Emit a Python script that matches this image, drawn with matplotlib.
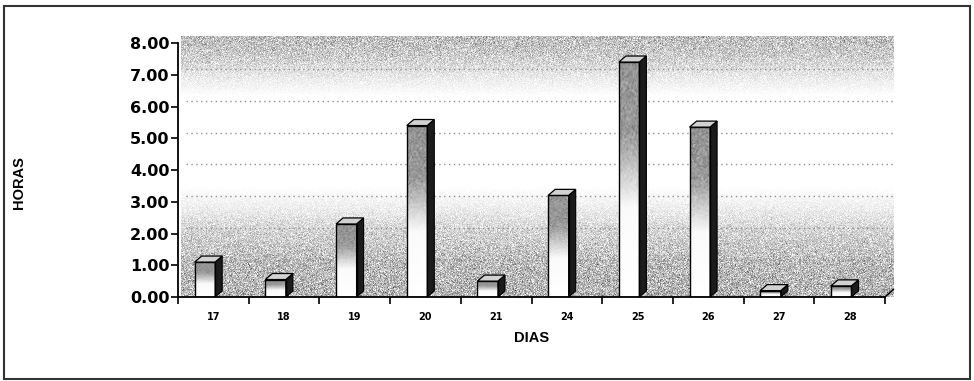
import numpy as np
import matplotlib.pyplot as plt
from matplotlib.patches import Polygon, Rectangle

# horas registradas por dia
dias = ['17', '18', '19', '20', '21', '24', '25', '26', '27', '28']
horas = [1.10, 0.55, 2.30, 5.40, 0.50, 3.20, 7.40, 5.35, 0.20, 0.35]
y_ticks = [0, 1, 2, 3, 4, 5, 6, 7, 8]

fig = plt.figure(figsize=(9.74, 3.81), dpi=100)
fig.patch.set_facecolor('white')
ax = fig.add_axes([178 / 974, 84 / 381, 707 / 974, 254 / 381])

x = np.arange(len(dias))
ax.set_xlim(-0.5, len(dias) - 0.5)
ax.set_ylim(0, 8)

# pseudo-3d depth offsets (data units)
bdx, bdy = 0.10, 0.19
wdx, wdy = 0.12, 0.22

rng = np.random.default_rng(7)

# back wall: grainy gradient, grey at top and bottom, white in the middle
wall_top = 8 + wdy
nv, nh = 260, 720
v = np.linspace(0, wall_top, nv)
g = np.interp(v, [0, 1.0, 2.0, 2.8, 3.5, 6.3, 6.9, 7.6, wall_top],
              [0.70, 0.73, 0.82, 0.93, 1.0, 1.0, 0.92, 0.80, 0.74])
shade = np.repeat(g[:, None], nh, axis=1)
grain = rng.normal(0, 1, shade.shape) * (1 - shade)
shade = np.clip(shade - grain * 0.45, 0, 1)
ax.imshow(shade, cmap='gray', vmin=0, vmax=1, origin='lower', aspect='auto',
          extent=(-0.5 + 0.04, len(dias) - 0.5 + wdx, 0, wall_top),
          interpolation='nearest', zorder=0, clip_on=False)

# dotted gridlines on the wall
for t in y_ticks[1:-1]:
    ax.plot([-0.5 + wdx, len(dias) - 0.5 + wdx], [t + wdy * 0.8] * 2,
            ls=(0, (1, 2.5)), color='#909090', lw=1.0, zorder=1, clip_on=False)

# bars: front face with vertical gradient, dark side, light cap
w = 0.29
off = -0.12
bars = ax.bar(x + off, horas, width=w, facecolor='none', edgecolor='black',
              lw=1.0, zorder=4)
for xi, h, bar in zip(x, horas, bars):
    x0 = xi + off - w / 2
    x1 = xi + off + w / 2
    fv = np.linspace(0, 1, 120)
    fg = np.interp(fv, [0, 0.38, 0.70, 1.0], [1.0, 0.98, 0.60, 0.58])
    face = np.repeat(fg[:, None], 20, axis=1)
    face = np.clip(face - rng.normal(0, 1, face.shape) * 0.15 * (1 - face), 0, 1)
    im = ax.imshow(face, cmap='gray', vmin=0, vmax=1, origin='lower',
                   aspect='auto', extent=(x0, x1, 0, h),
                   interpolation='bilinear', zorder=3)
    im.set_clip_path(bar)
    side = Polygon([(x1, 0), (x1 + bdx, bdy), (x1 + bdx, h + bdy), (x1, h)],
                   closed=True, facecolor='#1c1c1c', edgecolor='black',
                   lw=0.8, zorder=3.5)
    ax.add_patch(side)
    cap = Polygon([(x0, h), (x0 + bdx, h + bdy), (x1 + bdx, h + bdy), (x1, h)],
                  closed=True, facecolor='#d2d2d2', edgecolor='black',
                  lw=0.9, zorder=5)
    ax.add_patch(cap)

# floor edge on the right
ax.plot([len(dias) - 0.5, len(dias) - 0.5 + wdx], [0, wdy * 1.1],
        color='black', lw=1.0, zorder=6, clip_on=False)

for s in ['top', 'right']:
    ax.spines[s].set_visible(False)
for s in ['left', 'bottom']:
    ax.spines[s].set_linewidth(1.3)
    ax.spines[s].set_zorder(6)

ax.set_yticks(y_ticks)
ax.set_yticklabels(['%.2f' % t for t in y_ticks], fontsize=11.5,
                   fontweight='bold', family='DejaVu Sans')
ax.tick_params(axis='y', length=5, width=1.2, pad=1)

ax.set_xticks(np.arange(-0.5, len(dias) + 0.5, 1))
ax.set_xticklabels([])
ax.set_xticks(x, minor=True)
ax.set_xticklabels(dias, minor=True, fontsize=7, fontweight='bold',
                   family='DejaVu Sans')
ax.tick_params(axis='x', which='major', length=5, width=1.2)
ax.tick_params(axis='x', which='minor', length=0, pad=11)

fig.text(532 / 974, 1 - 338 / 381, 'DIAS', ha='center', va='center',
         fontsize=10.5, fontweight='bold', family='Liberation Sans')
fig.text(19 / 974, 1 - 183 / 381, 'HORAS', ha='center', va='center',
         rotation=90, fontsize=10.5, fontweight='bold', family='Liberation Sans')

# outer frame
fig.patches.append(Rectangle((4 / 974, 2 / 381), 966 / 974, 373 / 381,
                             transform=fig.transFigure, fill=False,
                             edgecolor='#333333', lw=1.5))

fig.savefig('out.png', dpi=100)
